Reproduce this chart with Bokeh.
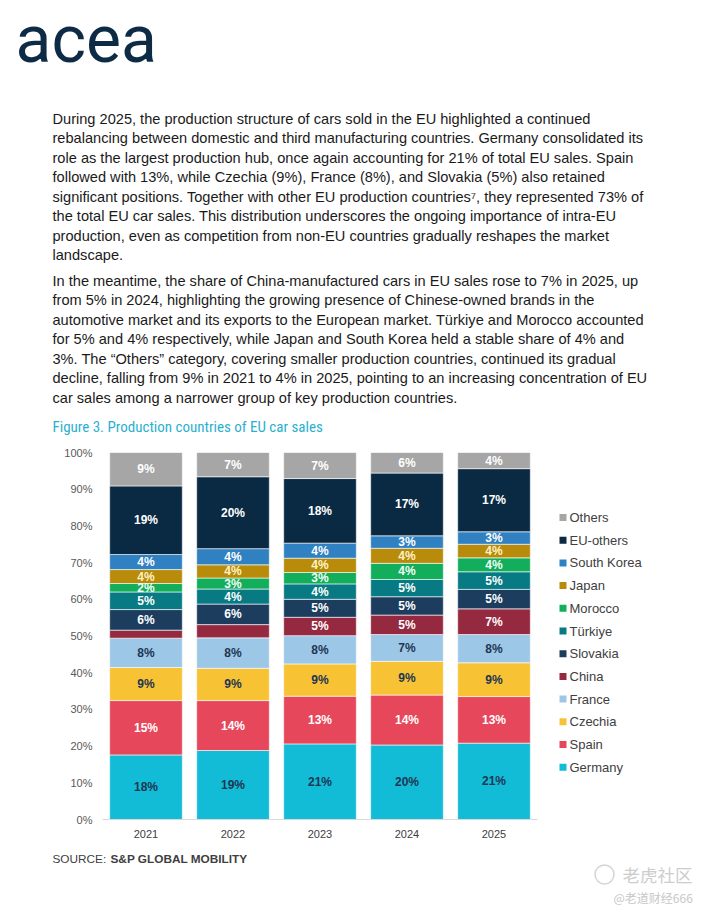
from bokeh.plotting import figure
from bokeh.layouts import column, row
from bokeh.models import (ColumnDataSource, FactorRange, Range1d, FixedTicker,
                          PrintfTickFormatter)
from bokeh.core.properties import value
from bokeh.embed import file_html
from bokeh.resources import INLINE

# ---------------- data ----------------
years = ["2021", "2022", "2023", "2024", "2025"]
germany = [17.6, 18.8, 20.6, 20.3, 20.8]
spain = [14.8, 13.6, 13.0, 13.6, 12.7]
czechia = [9.0, 8.8, 8.8, 9.2, 9.2]
france = [8.0, 8.3, 7.7, 7.3, 7.7]
china = [2.2, 3.6, 5.0, 5.3, 7.0]
slovakia = [5.6, 5.6, 4.9, 5.0, 5.3]
turkiye = [4.8, 4.1, 4.2, 4.7, 4.8]
morocco = [2.3, 3.0, 3.1, 4.4, 3.8]
japan = [3.8, 3.6, 3.9, 4.1, 3.7]
south_korea = [4.1, 4.4, 4.1, 3.4, 3.4]
eu_others = [18.7, 19.6, 17.6, 17.1, 17.2]
others = [9.1, 6.6, 7.1, 5.6, 4.4]

countries = ["Germany", "Spain", "Czechia", "France", "China", "Slovakia",
             "Türkiye", "Morocco", "Japan", "South Korea", "EU-others", "Others"]
series = [germany, spain, czechia, france, china, slovakia,
          turkiye, morocco, japan, south_korea, eu_others, others]
colors = ["#12BCD6", "#E6475A", "#F7C234", "#9DC7E7", "#94293F", "#1C3D5E",
          "#087A84", "#12AE5B", "#B88B0B", "#3081C1", "#0A2A43", "#A6A6A6"]
label_colors = ["#1E3652", "#FFFFFF", "#1E3652", "#1E3652", "#FFFFFF", "#FFFFFF",
                "#FFFFFF", "#F2FFF6", "#FFF3C4", "#FFFFFF", "#FFFFFF", "#FFFFFF"]
hidden_labels = [("China", "2021"), ("China", "2022")]
y_ticks = [0, 10, 20, 30, 40, 50, 60, 70, 80, 90, 100]

para1 = [
    "During 2025, the production structure of cars sold in the EU highlighted a continued",
    "rebalancing between domestic and third manufacturing countries. Germany consolidated its",
    "role as the largest production hub, once again accounting for 21% of total EU sales. Spain",
    "followed with 13%, while Czechia (9%), France (8%), and Slovakia (5%) also retained",
    "significant positions. Together with other EU production countries\u2077, they represented 73% of",
    "the total EU car sales. This distribution underscores the ongoing importance of intra-EU",
    "production, even as competition from non-EU countries gradually reshapes the market",
    "landscape.",
]
para2 = [
    "In the meantime, the share of China-manufactured cars in EU sales rose to 7% in 2025, up",
    "from 5% in 2024, highlighting the growing presence of Chinese-owned brands in the",
    "automotive market and its exports to the European market. Türkiye and Morocco accounted",
    "for 5% and 4% respectively, while Japan and South Korea held a stable share of 4% and",
    "3%. The \u201cOthers\u201d category, covering smaller production countries, continued its gradual",
    "decline, falling from 9% in 2021 to 4% in 2025, pointing to an increasing concentration of EU",
    "car sales among a narrower group of key production countries.",
]
fig_title = "Figure 3. Production countries of EU car sales"
source_lead = "SOURCE:"
source_name = "S&P GLOBAL MOBILITY"
watermark = ["老虎社区", "@老道财经666"]

W = 706
SANS = "Liberation Sans"


def blank(width, y0, y1, x0=0, top=0, bottom=0, fy0=None, fy1=None):
    """Figure with page-pixel data coordinates over its frame."""
    fy0 = y0 if fy0 is None else fy0
    fy1 = y1 if fy1 is None else fy1
    f = figure(width=width, height=y1 - y0, x_range=Range1d(x0, x0 + width),
               y_range=Range1d(fy1, fy0), output_backend="svg", toolbar_location=None,
               min_border_left=0, min_border_right=0, min_border_top=top,
               min_border_bottom=bottom, x_axis_location=None, y_axis_location=None)
    f.outline_line_color = None
    f.xgrid.visible = False
    f.ygrid.visible = False
    return f


def put(f, x, y, text, size="14.6px", color="#1A1A1A", font=SANS, style="normal",
        baseline="middle", align="left"):
    f.text(x=[x], y=[y], text=[text], text_font=value(font), text_font_size=size,
           text_color=color, text_font_style=style, text_baseline=baseline,
           text_align=align)


# ---------------- header (page y 0..440) ----------------
head = blank(W, 0, 440)
put(head, 15, 39, "acea", size="66px", color="#0D2B44", font="Roboto")
for k, line in enumerate(para1):
    put(head, 52, 118 + 19.5 * k, line)
for k, line in enumerate(para2):
    put(head, 52, 280 + 19.55 * k, line)
put(head, 52, 426, fig_title, size="15px", color="#2AB0CE",
    font="'Liberation Sans Narrow', 'Roboto Condensed', 'Arial Narrow', Roboto")

# ---------------- chart (page y 440..845, x 0..545) ----------------
CW, CH = 545, 405
FL, FR, FT, FB = 102, 537, 12, 379
p = figure(width=CW, height=CH, x_range=FactorRange(factors=years, range_padding=0),
           y_range=Range1d(0, 100), output_backend="svg", toolbar_location=None,
           min_border_left=FL, min_border_right=CW - FR, min_border_top=FT,
           min_border_bottom=CH - FB)
p.outline_line_color = None
p.xgrid.visible = False
p.ygrid.visible = False

data = {"year": years}
for c, s in zip(countries, series):
    data[c] = s
src = ColumnDataSource(data)
renderers = p.vbar_stack(countries, x="year", width=0.835, color=colors, source=src,
                         line_color="white", line_width=0.6)

lx, ly, lt, lc = [], [], [], []
for i, y in enumerate(years):
    base = 0.0
    for c, s, col in zip(countries, series, label_colors):
        v = s[i]
        if (c, y) not in hidden_labels:
            lx.append(y)
            ly.append(base + v / 2)
            lt.append("%d%%" % int(v + 0.5))
            lc.append(col)
        base += v
lsrc = ColumnDataSource(dict(x=lx, y=ly, t=lt, c=lc))
p.text(x="x", y="y", text="t", text_color="c", source=lsrc, text_align="center",
       text_baseline="middle", text_font=value(SANS),
       text_font_style="bold", text_font_size="12px")

p.yaxis.ticker = FixedTicker(ticks=y_ticks)
p.yaxis.formatter = PrintfTickFormatter(format="%d%%")
p.yaxis.axis_line_color = None
p.yaxis.major_tick_line_color = None
p.yaxis.minor_tick_line_color = None
p.yaxis.major_tick_out = 0
p.yaxis.major_tick_in = 0
p.yaxis.major_label_standoff = 10
p.yaxis.major_label_text_font = SANS
p.yaxis.major_label_text_font_size = "11px"
p.yaxis.major_label_text_color = "#595959"

p.xaxis.axis_line_color = "#D9D9D9"
p.xaxis.axis_line_width = 1
p.xaxis.major_tick_line_color = None
p.xaxis.minor_tick_line_color = None
p.xaxis.major_tick_out = 0
p.xaxis.major_tick_in = 0
p.xaxis.major_label_standoff = 10
p.xaxis.major_label_text_font = SANS
p.xaxis.major_label_text_font_size = "11px"
p.xaxis.major_label_text_color = "#404040"

# ---------------- legend (page x 545..706; frame aligned with chart frame) ----------------
leg = blank(W - CW, 440, 845, x0=CW, top=FT, bottom=CH - FB,
            fy0=440 + FT, fy1=440 + FB)
leg_names = countries[::-1]
leg_colors = colors[::-1]
leg_y = [517 + 22.7 * k for k in range(len(leg_names))]
leg.scatter(x=[562.5] * len(leg_names), y=leg_y, marker="square", size=7,
            fill_color=leg_colors, line_color=None)
leg.text(x=[569] * len(leg_names), y=leg_y, text=leg_names, text_font=value(SANS),
         text_font_size="13px", text_color="#404040", text_baseline="middle",
         text_align="left")

# ---------------- footer (page y 845..914) ----------------
foot = blank(W, 845, 914)
put(foot, 52, 858, source_lead, size="11.8px", color="#404040")
put(foot, 110, 858, source_name, size="11.8px", color="#404040", style="bold")
foot.scatter(x=[604], y=[874], marker="circle", size=19, fill_color=None,
             line_color="#D4D4D4", line_width=1.5)
put(foot, 622, 874, watermark[0], size="17.5px", color="#CDCDCD", font="Noto Sans CJK SC")
put(foot, 613, 897, watermark[1], size="12px", color="#C8C8C8", font="Noto Sans CJK SC")

layout = column(head, row(p, leg), foot)
open("out.html", "w").write(file_html(layout, INLINE))
